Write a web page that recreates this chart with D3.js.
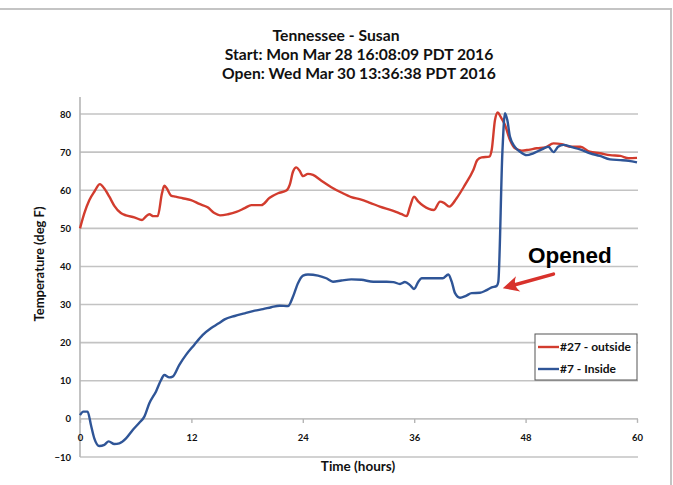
<!DOCTYPE html>
<html>
<head>
<meta charset="utf-8">
<script src="https://cdn.jsdelivr.net/npm/d3@7"></script>
<style>
  body { margin: 0; background: #fff; }
  text { font-family: Lato, "Open Sans", sans-serif; font-weight: bold; fill: #111; }
</style>
</head>
<body>
<div id="chart-area"></div>
<script>
// Chart values
var titleLines = ["Tennessee - Susan", "Start: Mon Mar 28 16:08:09 PDT 2016", "Open: Wed Mar 30 13:36:38 PDT 2016"];
var xTicks = [0, 12, 24, 36, 48, 60];
var yTicks = [-10, 0, 10, 20, 30, 40, 50, 60, 70, 80];
var seriesNames = ["#27 - outside", "#7 - Inside"];

// #27 - outside
var outsideHours = [0, 0.47, 1.0, 1.54, 2.15, 2.6, 3.16, 3.7, 4.4, 4.96, 5.85, 6.68, 7.1, 7.47, 7.9, 8.37, 8.83, 9.08, 9.34, 9.8,
  10.3, 11.06, 11.96, 12.86, 13.75, 14.47, 15.08, 15.94, 16.84, 17.74, 18.46, 19.53, 20.43, 21.33, 22.23, 22.59, 22.95, 23.3, 23.66, 24.02,
  24.56, 25.1, 26.0, 27.07, 28.15, 29.23, 30.2, 31.24, 32.3, 33.75, 34.65, 35.19, 35.55, 35.98, 36.45, 36.98, 38.13, 38.78, 39.2, 39.78,
  40.57, 41.47, 42.37, 42.8, 43.27, 44.09, 44.35, 44.7, 45.0, 45.3, 45.75, 46.32, 46.86, 47.58, 48.3, 49.2, 50.1, 51.0, 51.9, 52.8,
  53.9, 54.9, 56.0, 57.1, 58.2, 59.1, 60.0];
var outsideTemp = [50.0, 54.0, 57.4, 59.6, 61.6, 60.5, 58.3, 55.9, 54.0, 53.4, 52.9, 52.2, 53.1, 53.7, 53.2, 53.2, 59.2, 61.2, 60.5, 58.6,
  58.3, 57.9, 57.4, 56.4, 55.5, 54.0, 53.4, 53.7, 54.3, 55.3, 56.1, 56.1, 58.0, 59.2, 59.9, 61.4, 64.9, 66.0, 65.1, 63.7,
  64.3, 64.0, 62.5, 60.8, 59.4, 58.2, 57.6, 56.7, 55.7, 54.6, 53.7, 53.2, 55.7, 58.3, 57.0, 55.9, 54.8, 57.0, 56.7, 55.7,
  57.9, 61.4, 65.3, 67.9, 68.6, 68.8, 70.6, 78.4, 80.4, 79.3, 77.3, 73.2, 71.0, 70.4, 70.6, 71.0, 71.2, 72.3, 72.1, 71.4,
  71.4, 70.1, 69.7, 69.2, 69.0, 68.4, 68.5];

// #7 - Inside
var insideHours = [0, 0.36, 0.82, 1.18, 1.54, 2.08, 2.62, 3.09, 3.7, 4.24, 4.96, 5.68, 6.39, 6.93, 7.47, 8.19, 8.73, 9.08, 9.62, 9.98,
  10.7, 11.42, 12.3, 13.2, 14.1, 14.9, 15.58, 16.66, 17.74, 18.82, 19.71, 20.6, 21.5, 22.4, 22.95, 23.48, 24.02, 24.56, 25.64, 26.53,
  27.25, 28.15, 29.23, 30.3, 31.6, 33.04, 33.75, 34.47, 35.0, 35.55, 35.98, 36.45, 36.8, 38.06, 39.07, 39.68, 40.04, 40.4, 40.94, 41.58,
  42.19, 43.09, 43.74, 44.35, 44.89, 45.06, 45.5, 45.78, 46.03, 46.32, 46.86, 47.4, 48.12, 48.83, 49.74, 50.45, 51.0, 51.5, 52.07, 52.97,
  53.86, 54.94, 56.0, 57.1, 58.2, 59.1, 60.0];
var insideTemp = [1.0, 1.9, 1.9, -1.6, -5.1, -7.1, -6.8, -5.9, -6.6, -6.4, -5.1, -2.9, -1.0, 0.6, 4.1, 7.2, 10.2, 11.5, 10.9, 11.1,
  14.2, 16.8, 19.4, 22.0, 23.8, 25.0, 26.1, 27.0, 27.7, 28.4, 28.8, 29.3, 29.7, 29.6, 32.1, 35.6, 37.6, 37.9, 37.6, 36.9,
  36.0, 36.3, 36.6, 36.5, 36.0, 36.0, 35.9, 35.4, 35.9, 35.1, 34.1, 36.0, 36.9, 36.9, 36.9, 37.9, 36.0, 33.0, 31.8, 32.3,
  33.0, 33.1, 33.7, 34.5, 34.9, 36.0, 70.0, 80.2, 78.4, 74.0, 71.3, 70.1, 69.2, 69.7, 70.7, 71.4, 70.0, 71.4, 71.9, 71.3,
  70.7, 69.7, 69.0, 68.1, 67.9, 67.7, 67.3];

var colors = ["#d23c2e", "#2f5597"];

var width = 673, height = 485;

var svg = d3.select("#chart-area").append("svg")
  .attr("width", width)
  .attr("height", height);

// outer chart frame
svg.append("rect")
  .attr("x", -5).attr("y", 9)
  .attr("width", 676).attr("height", 490)
  .attr("fill", "none")
  .attr("stroke", "#c4c4c4")
  .attr("stroke-width", 2);

// Scales
var x = d3.scaleLinear().domain([0, 60]).range([80, 637]);
var y = d3.scaleLinear().domain([-10, 80]).range([457, 114]);

// gridlines
svg.append("g").selectAll("line")
  .data(yTicks)
  .enter().append("line")
  .attr("x1", x(0)).attr("x2", x(60) + 1)
  .attr("y1", function(d) { return y(d); })
  .attr("y2", function(d) { return y(d); })
  .attr("stroke", "#c3c3c3")
  .attr("stroke-width", 1.6);

// y axis
var yAxis = d3.axisLeft(y).tickValues(yTicks).tickSize(0).tickPadding(9);
var yAxisGroup = svg.append("g")
  .attr("class", "y-axis axis")
  .attr("transform", "translate(" + x(0) + ",0)")
  .call(yAxis);
yAxisGroup.select(".domain").remove();
yAxisGroup.selectAll("text").style("font-size", "9.5px");
svg.append("line")
  .attr("x1", x(0)).attr("x2", x(0))
  .attr("y1", y(-10)).attr("y2", 97)
  .attr("stroke", "#b5b5b5").attr("stroke-width", 1.6);

// x axis crosses at 0
var xAxis = d3.axisBottom(x).tickValues(xTicks).tickSize(4).tickPadding(11);
var xAxisGroup = svg.append("g")
  .attr("class", "x-axis axis")
  .attr("transform", "translate(0," + y(0) + ")")
  .call(xAxis);
xAxisGroup.select(".domain").remove();
xAxisGroup.selectAll("line").attr("stroke", "#b5b5b5").attr("stroke-width", 1.4);
xAxisGroup.selectAll("text").style("font-size", "9.5px");

// lines
var line = d3.line()
  .x(function(d) { return x(d[0]); })
  .y(function(d) { return y(d[1]); })
  .curve(d3.curveMonotoneX);

var outside = outsideHours.map(function(h, i) { return [h, outsideTemp[i]]; });
var inside = insideHours.map(function(h, i) { return [h, insideTemp[i]]; });

svg.append("path")
  .datum(outside)
  .attr("fill", "none")
  .attr("stroke", colors[0])
  .attr("stroke-width", 2.4)
  .attr("stroke-linejoin", "round")
  .attr("d", line);

svg.append("path")
  .datum(inside)
  .attr("fill", "none")
  .attr("stroke", colors[1])
  .attr("stroke-width", 2.4)
  .attr("stroke-linejoin", "round")
  .attr("d", line);

// title
svg.append("g").selectAll("text")
  .data(titleLines)
  .enter().append("text")
  .attr("x", function(d, i) { return i == 0 ? 336 : 359; })
  .attr("y", function(d, i) { return 41 + i * 19; })
  .attr("text-anchor", "middle")
  .style("font-size", "15.7px")
  .text(function(d) { return d; });

// axis titles
svg.append("text")
  .attr("transform", "translate(44,264) rotate(-90)")
  .attr("text-anchor", "middle")
  .style("font-size", "13px")
  .text("Temperature (deg F)");

svg.append("text")
  .attr("x", 358).attr("y", 471)
  .attr("text-anchor", "middle")
  .style("font-size", "13.5px")
  .text("Time (hours)");

// legend
var legend = svg.append("g").attr("transform", "translate(535,334)");
legend.append("rect")
  .attr("width", 102).attr("height", 46)
  .attr("fill", "#fff")
  .attr("stroke", "#555").attr("stroke-width", 1);
seriesNames.forEach(function(name, i) {
  legend.append("line")
    .attr("x1", 3).attr("x2", 24)
    .attr("y1", 13 + i * 22).attr("y2", 13 + i * 22)
    .attr("stroke", colors[i]).attr("stroke-width", 2.4);
  legend.append("text")
    .attr("x", 25).attr("y", 17 + i * 22)
    .style("font-size", "12px")
    .text(name);
});

// "Opened" annotation
svg.append("text")
  .attr("x", x(48.26)).attr("y", y(40.9))
  .style("font-family", "'Liberation Sans', Arial, sans-serif")
  .style("font-size", "22.5px")
  .style("fill", "#000")
  .text("Opened");

var tip = [x(45.54), y(34.3)];
var tail = [x(51.0), y(38.0)];
var ang = Math.atan2(tail[1] - tip[1], tail[0] - tip[0]);
function pt(len, off) {
  return [tip[0] + len * Math.cos(ang) - off * Math.sin(ang),
          tip[1] + len * Math.sin(ang) + off * Math.cos(ang)];
}
svg.append("line")
  .attr("x1", pt(8, 0)[0]).attr("y1", pt(8, 0)[1])
  .attr("x2", tail[0]).attr("y2", tail[1])
  .attr("stroke", "#d8322c").attr("stroke-width", 3.5)
  .attr("stroke-linecap", "round");
svg.append("path")
  .attr("d", "M" + tip + "L" + pt(16, -8) + "Q" + pt(10, 0) + " " + pt(16, 8) + "Z")
  .attr("fill", "#d8322c");
</script>
</body>
</html>
